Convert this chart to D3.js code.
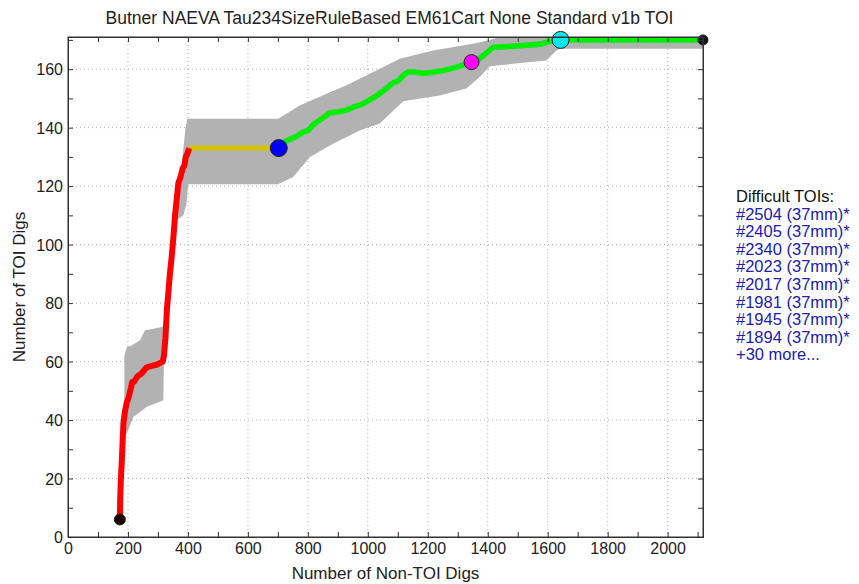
<!DOCTYPE html>
<html>
<head>
<meta charset="utf-8">
<script src="https://cdn.jsdelivr.net/npm/d3@7"></script>
<style>
  body { margin: 0; background: #fff; }
  text { font-family: "Liberation Sans", Arial, sans-serif; }
</style>
</head>
<body>
<div id="chart"></div>
<script>
// chart data
const redX = [173, 174, 176, 179, 182, 185, 190, 196, 203, 210, 214, 220, 232, 246, 262, 280, 298, 316, 320, 325, 330, 340, 346, 352, 357, 363, 368, 375, 382, 388, 393, 398, 404];
const redY = [6, 12, 19, 25, 32, 39, 43, 46, 48, 51, 53, 53, 55, 56, 58, 58.5, 59, 60, 62, 68, 78, 90, 96, 103, 110, 116, 121, 123, 126, 127, 130, 131, 133];
const yellowX = [404, 703];
const yellowY = [133, 133];
const greenX = [703, 720, 740, 762, 784, 800, 818, 845, 873, 907, 930, 951, 980, 1007, 1030, 1057, 1080, 1101, 1120, 1134, 1160, 1184, 1220, 1251, 1296, 1320, 1346, 1370, 1390, 1418, 1460, 1507, 1573, 1607, 1643, 1800, 2000, 2118];
const greenY = [133, 135, 136, 137, 138.5, 139, 141, 143, 145, 145.5, 146, 147, 148, 149.5, 151, 153, 155, 156, 158, 159, 159, 158.5, 159, 159.5, 160.7, 161.5, 162.4, 163.5, 165, 167.5, 167.7, 168, 168.5, 169.5, 170, 170, 170, 170];

// uncertainty band: upper/left edge and lower/right edge
const bandUpperX = [188, 188, 196, 212, 240, 257, 285, 312, 318, 329, 340, 357, 366, 378, 392, 398, 701, 773, 862, 929, 1018, 1107, 1218, 1351, 1407, 1440, 2118];
const bandUpperY = [36, 62, 65, 65.5, 67.3, 70.7, 71.2, 71.8, 72, 80, 93.6, 110.7, 119, 126, 140, 143, 143, 147.6, 151.6, 154.5, 159, 163.6, 166.4, 168.7, 170, 171, 171];
const bandLowerX = [188, 196, 218, 262, 318, 320, 329, 340, 357, 385, 395, 401, 701, 751, 807, 884, 973, 1040, 1118, 1240, 1329, 1373, 1407, 1500, 1596, 1629, 1640, 2118];
const bandLowerY = [36, 35.4, 41, 44.5, 46.8, 62, 78, 92, 108, 110, 114, 120.6, 120.6, 123.1, 130, 134.5, 139, 141.4, 149, 151, 153.4, 157.3, 161, 162, 163, 166.4, 167, 167];

const markerX = [173, 703, 1346, 1643, 2118];
const markerY = [6, 133, 162.4, 170, 170];
const markerFill = ['#1a0000', '#0000ff', '#ff00ff', '#00e8f0', '#101010'];
const markerR = [5.5, 8.5, 7.5, 8.5, 5];

const xTicks = d3.range(0, 2001, 200);
const yTicks = d3.range(0, 161, 20);
const difficultTOIs = ['#2504 (37mm)*', '#2405 (37mm)*', '#2340 (37mm)*', '#2023 (37mm)*', '#2017 (37mm)*', '#1981 (37mm)*', '#1945 (37mm)*', '#1894 (37mm)*', '+30 more...'];

const W = 859, H = 584;
const margin = {top: 37, right: 156, bottom: 47, left: 68};
const width = W - margin.left - margin.right;
const height = H - margin.top - margin.bottom;

const svg = d3.select('#chart').append('svg').attr('width', W).attr('height', H);
svg.append('rect').attr('width', W).attr('height', H).attr('fill', '#fff');

const g = svg.append('g').attr('transform', `translate(${margin.left},${margin.top})`);

const x = d3.scaleLinear().domain([0, 2118]).range([0, width]);
const y = d3.scaleLinear().domain([0, 171]).range([height, 0]);

// dotted grid
g.append('g').selectAll('line').data(xTicks.filter(d => d > 0)).enter().append('line')
  .attr('x1', d => x(d)).attr('x2', d => x(d)).attr('y1', 0).attr('y2', height)
  .attr('stroke', '#b0b0b0').attr('stroke-width', 1).attr('stroke-dasharray', '1,3');
g.append('g').selectAll('line').data(yTicks.filter(d => d > 0)).enter().append('line')
  .attr('x1', 0).attr('x2', width).attr('y1', d => y(d)).attr('y2', d => y(d))
  .attr('stroke', '#b0b0b0').attr('stroke-width', 1).attr('stroke-dasharray', '1,3');

// band
const bandPts = bandUpperX.map((d, i) => [d, bandUpperY[i]])
  .concat(bandLowerX.map((d, i) => [d, bandLowerY[i]]).reverse());
g.append('path').datum(bandPts)
  .attr('fill', '#b2b2b2').attr('stroke', 'none')
  .attr('d', d3.line().x(d => x(d[0])).y(d => y(d[1])));

const line = d3.line().x(d => x(d[0])).y(d => y(d[1]));
const zip = (a, b) => a.map((d, i) => [d, b[i]]);

g.append('path').datum(zip(yellowX, yellowY))
  .attr('fill', 'none').attr('stroke', '#d4c400').attr('stroke-width', 5).attr('d', line);
g.append('path').datum(zip(greenX, greenY))
  .attr('fill', 'none').attr('stroke', '#00ee00').attr('stroke-width', 5.5)
  .attr('stroke-linejoin', 'round').attr('d', line);
g.append('path').datum(zip(redX, redY))
  .attr('fill', 'none').attr('stroke', '#ff0000').attr('stroke-width', 6)
  .attr('stroke-linejoin', 'round').attr('d', line);

g.append('g').selectAll('circle').data(markerX).enter().append('circle')
  .attr('cx', d => x(d)).attr('cy', (d, i) => y(markerY[i]))
  .attr('r', (d, i) => markerR[i]).attr('fill', (d, i) => markerFill[i])
  .attr('stroke', '#222').attr('stroke-width', 1);

// axes with inward ticks on all four sides
const fmt = d3.format('d');
const xAxis = g.append('g').attr('transform', `translate(0,${height})`)
  .call(d3.axisBottom(x).tickValues(xTicks).tickSize(-5).tickPadding(6).tickFormat(fmt));
const yAxis = g.append('g')
  .call(d3.axisLeft(y).tickValues(yTicks).tickSize(-5).tickPadding(5).tickFormat(fmt));
g.append('g').call(d3.axisTop(x).tickValues(d3.range(0, 2101, 100)).tickSize(-5).tickFormat(''));
g.append('g').attr('transform', `translate(${width},0)`)
  .call(d3.axisRight(y).tickValues(d3.range(0, 171, 10)).tickSize(-5).tickFormat(''));
g.append('g').attr('transform', `translate(0,${height})`)
  .call(d3.axisBottom(x).tickValues(d3.range(100, 2101, 200)).tickSize(-5).tickFormat(''));
g.append('g')
  .call(d3.axisLeft(y).tickValues(d3.range(10, 171, 20)).tickSize(-5).tickFormat(''));

g.selectAll('.domain').attr('stroke', '#333');
g.selectAll('.tick line').attr('stroke', '#333');
g.selectAll('.tick text').attr('font-size', 16).attr('fill', '#222')
  .attr('font-family', '"Liberation Sans", Arial, sans-serif');
yAxis.selectAll('.tick text').attr('dy', '0.35em');

// box
g.append('rect').attr('width', width).attr('height', height)
  .attr('fill', 'none').attr('stroke', '#333').attr('stroke-width', 1);

svg.append('text').attr('x', margin.left + width / 2 + 4).attr('y', 24)
  .attr('text-anchor', 'middle').attr('font-size', 17.5).attr('fill', '#222')
  .text('Butner NAEVA Tau234SizeRuleBased EM61Cart None Standard v1b TOI');
svg.append('text').attr('x', margin.left + width / 2).attr('y', 579)
  .attr('text-anchor', 'middle').attr('font-size', 17).attr('fill', '#222')
  .text('Number of Non-TOI Digs');
svg.append('text').attr('transform', `translate(25,${margin.top + height / 2}) rotate(-90)`)
  .attr('text-anchor', 'middle').attr('font-size', 17).attr('fill', '#222')
  .text('Number of TOI Digs');

const legend = svg.append('g').attr('transform', 'translate(736,202)');
legend.append('text').attr('x', 0).attr('y', 0).attr('font-size', 16.5).attr('fill', '#111')
  .text('Difficult TOIs:');
legend.selectAll('text.toi').data(difficultTOIs).enter().append('text').attr('class', 'toi')
  .attr('x', 0).attr('y', (d, i) => 17.6 * (i + 1)).attr('font-size', 16.5).attr('fill', '#2020b0')
  .text(d => d);
</script>
</body>
</html>
